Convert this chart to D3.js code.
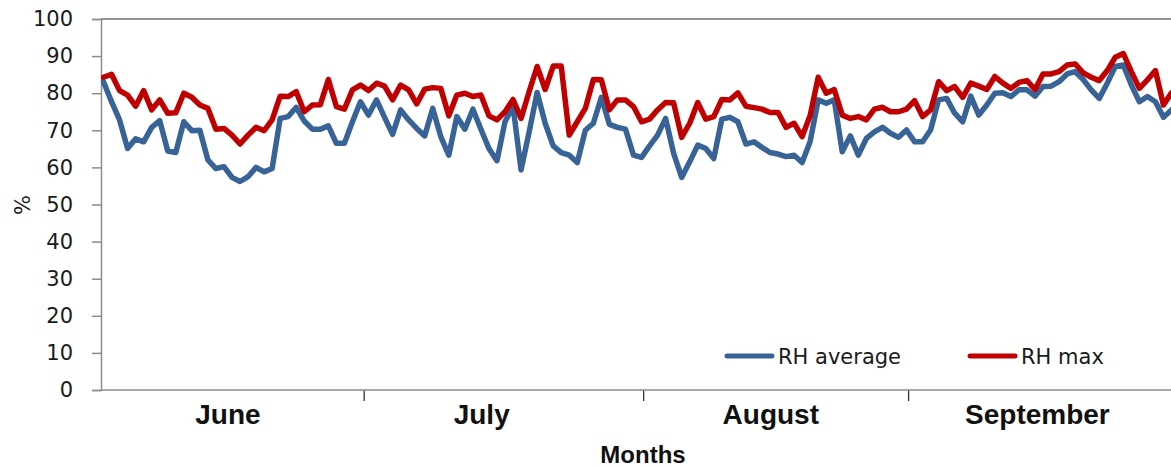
<!DOCTYPE html>
<html><head><meta charset="utf-8">
<script src="https://cdn.jsdelivr.net/npm/d3@7/dist/d3.min.js"></script>
<style>
html,body{margin:0;padding:0;background:#fff;}
svg{display:block;}
</style>
</head><body>
<svg id="chart" width="1171" height="467"></svg>
<script>
// ---- data (daily relative humidity, %) ----
const rhAverage = [
83.1,77.7,72.8,65.1,67.7,66.9,70.8,72.6,64.4,64.0,
72.3,69.9,70.0,62.0,59.7,60.2,57.3,56.2,57.5,60.0,
58.8,59.7,73.2,73.7,76.2,72.5,70.3,70.3,71.2,66.5,
66.5,72.3,77.7,74.1,78.2,73.5,68.9,75.5,72.8,70.5,
68.5,75.9,68.3,63.3,73.7,70.3,75.7,70.3,65.1,61.8,
72.3,76.5,59.3,69.5,80.2,71.9,65.8,64.0,63.3,61.3,
70.0,71.9,78.9,71.6,70.8,70.3,63.3,62.7,65.8,68.7,
73.2,63.8,57.3,61.5,66.0,65.1,62.4,73.0,73.5,72.3,
66.3,66.9,65.4,64.0,63.6,62.9,63.3,61.3,67.0,78.2,
77.3,78.2,64.2,68.5,63.3,67.8,69.6,70.8,69.2,68.1,
70.1,66.9,66.9,70.1,78.2,78.6,74.6,72.3,79.2,74.1,
76.8,80.0,80.1,79.1,80.9,80.9,79.2,81.8,81.9,83.1,
85.2,85.8,83.7,80.9,78.6,82.7,87.2,87.6,82.2,77.7,
79.1,77.7,73.5,75.5
];
const rhMax = [
84.3,85.1,80.7,79.5,76.5,80.7,75.5,78.2,74.6,74.7,
80.0,78.9,76.8,75.9,70.3,70.5,68.7,66.3,68.7,70.8,
69.9,72.8,79.2,79.1,80.4,75.0,76.8,76.9,83.7,76.4,
75.7,80.9,82.2,80.7,82.7,81.9,78.2,82.2,80.9,77.1,
81.1,81.5,81.3,73.9,79.5,80.0,79.1,79.5,73.9,72.8,
75.0,78.3,73.2,80.4,87.2,81.0,87.3,87.3,68.7,72.3,
75.9,83.7,83.6,75.5,78.2,78.2,76.4,72.3,73.0,75.5,
77.5,77.4,68.1,71.9,77.5,73.0,73.7,78.3,78.2,80.1,
76.5,76.1,75.7,74.8,74.8,70.8,71.9,68.3,74.0,84.3,
80.0,81.0,74.1,73.2,73.7,72.8,75.7,76.2,75.0,75.0,
75.7,78.0,73.7,75.5,83.1,80.7,81.8,78.9,82.7,81.9,
81.0,84.5,82.7,81.3,82.9,83.4,81.0,85.2,85.2,85.8,
87.6,87.9,85.5,84.3,83.4,86.1,89.7,90.7,85.8,81.3,
83.6,86.1,76.8,80.1
];
const seriesNames = ["RH average", "RH max"];
const yTicks = [0,10,20,30,40,50,60,70,80,90,100];
const months = ["June","July","August","September"];
const monthCenters = [15.5, 47.1, 83.1, 116.3];   // in day-index units
const monthBoundaries = [32.4, 67.2, 100.2];      // in day-index units
const yTitle = "%";
const xTitle = "Months";

(function () {
// ---- layout ----
const mLeft = 101, mTop = 19, mBottom = 390, mRight = 1171;
const blue = "#386396", red = "#C00000", axisGray = "#8c8c8c";

const svg = d3.select("#chart");

const x = d3.scaleLinear().domain([0, rhAverage.length - 1]).range([103.5, 1171.5]);
const y = d3.scaleLinear().domain([0, 100]).range([mBottom, mTop]);

// top border of plot area
svg.append("line").attr("x1", mLeft).attr("x2", mRight).attr("y1", mTop).attr("y2", mTop)
  .attr("stroke", "#6e6e6e").attr("stroke-width", 1.5);

// y axis
const yAxis = svg.append("g").attr("transform", `translate(${mLeft},0)`)
  .call(d3.axisLeft(y).tickValues(yTicks).tickSize(9).tickPadding(19).tickFormat(d3.format("d")));
yAxis.select(".domain").attr("stroke", axisGray).attr("stroke-width", 1.5);
yAxis.selectAll(".tick line").attr("stroke", axisGray).attr("stroke-width", 1.5);
yAxis.selectAll(".tick text").attr("font-family", "'DejaVu Sans', Verdana, sans-serif")
  .attr("font-size", 21).attr("fill", "#1a1a1a");

// x axis
const xAxis = svg.append("g").attr("transform", `translate(0,${mBottom})`)
  .call(d3.axisBottom(x).tickValues(monthBoundaries).tickSize(11).tickFormat(""));
xAxis.select(".domain").remove();
xAxis.selectAll(".tick line").attr("stroke", "#333").attr("stroke-width", 1.3);
svg.append("line").attr("x1", mLeft).attr("x2", mRight).attr("y1", mBottom).attr("y2", mBottom)
  .attr("stroke", axisGray).attr("stroke-width", 1.5);

svg.append("g").selectAll("text").data(months).join("text")
  .attr("x", (d, i) => x(monthCenters[i])).attr("y", 424)
  .attr("text-anchor", "middle")
  .attr("font-family", "'Liberation Sans', Arial, sans-serif").attr("font-weight", "bold")
  .attr("font-size", 28).attr("fill", "#111")
  .text(d => d);

svg.append("text").attr("x", 643).attr("y", 463).attr("text-anchor", "middle")
  .attr("font-family", "'Liberation Sans', Arial, sans-serif").attr("font-weight", "bold")
  .attr("font-size", 24).attr("fill", "#111").text(xTitle);

svg.append("text").attr("transform", "translate(30,205) rotate(-90)").attr("text-anchor", "middle")
  .attr("font-family", "'DejaVu Sans', Verdana, sans-serif").attr("font-size", 21).attr("fill", "#1a1a1a")
  .text(yTitle);

// lines
svg.append("defs").append("clipPath").attr("id", "clip")
  .append("rect").attr("x", mLeft).attr("y", 0).attr("width", mRight - mLeft).attr("height", mBottom);

const line = d3.line().x((d, i) => x(i)).y(d => y(d));
const g = svg.append("g").attr("clip-path", "url(#clip)");
g.append("path").datum(rhAverage).attr("d", line).attr("fill", "none")
  .attr("stroke", blue).attr("stroke-width", 5.5).attr("stroke-linejoin", "round").attr("stroke-linecap", "round");
g.append("path").datum(rhMax).attr("d", line).attr("fill", "none")
  .attr("stroke", red).attr("stroke-width", 5.5).attr("stroke-linejoin", "round").attr("stroke-linecap", "round");

// legend
const legend = svg.append("g");
const legItems = [{name: seriesNames[0], color: blue, x0: 727}, {name: seriesNames[1], color: red, x0: 970}];
legItems.forEach(it => {
  legend.append("line").attr("x1", it.x0).attr("x2", it.x0 + 45).attr("y1", 356).attr("y2", 356)
    .attr("stroke", it.color).attr("stroke-width", 5).attr("stroke-linecap", "round");
  legend.append("text").attr("x", it.x0 + 51).attr("y", 364)
    .attr("font-family", "'DejaVu Sans', Verdana, sans-serif").attr("font-size", 21).attr("fill", "#1a1a1a")
    .text(it.name);
});
})();
</script>
</body></html>
